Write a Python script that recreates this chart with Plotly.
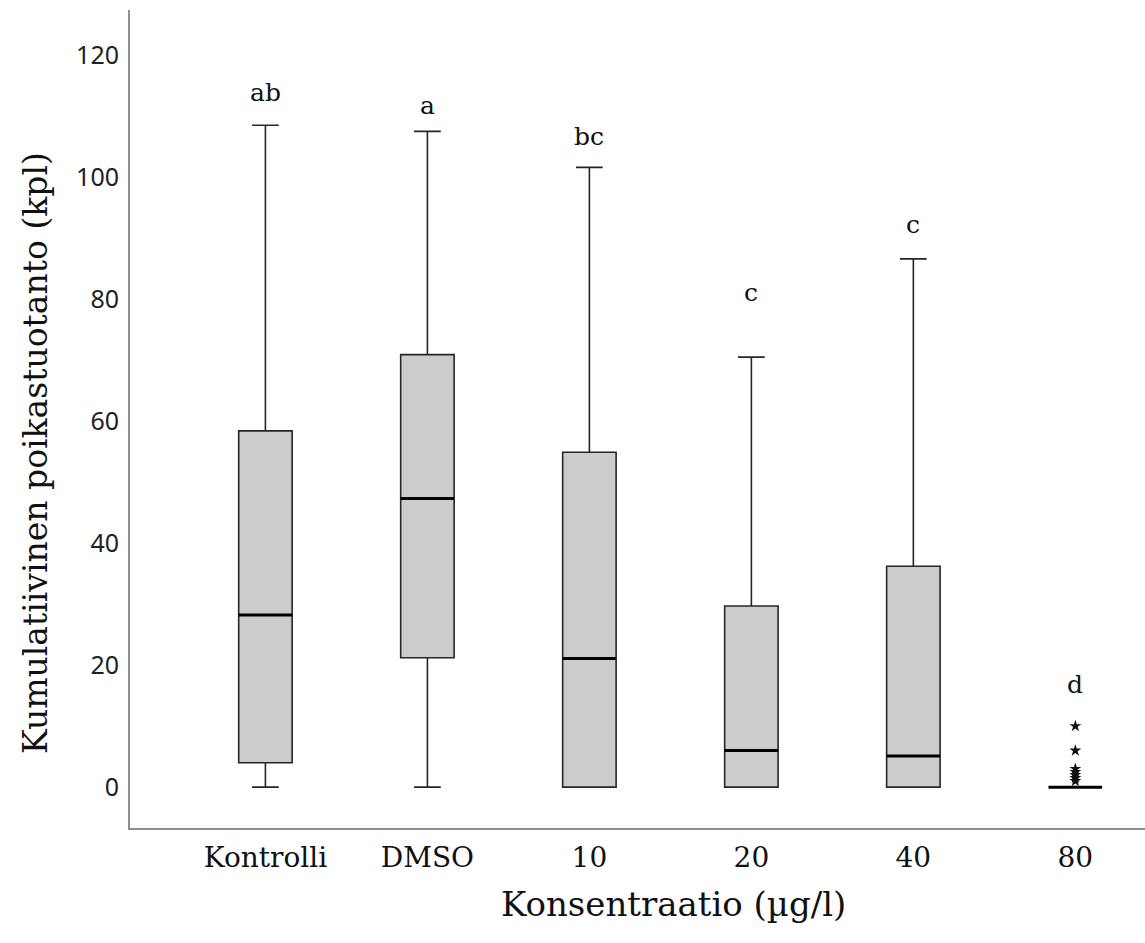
import plotly.graph_objects as go

categories = ["Kontrolli", "DMSO", "10", "20", "40", "80"]
q1 = [4.0, 21.2, 0.0, 0.0, 0.0, 0.0]
median = [28.2, 47.3, 21.1, 6.0, 5.1, 0.0]
q3 = [58.4, 70.9, 54.9, 29.7, 36.2, 0.0]
lower_fence = [0.0, 0.0, 0.0, 0.0, 0.0, 0.0]
upper_fence = [108.5, 107.5, 101.6, 70.5, 86.6, 0.0]
outlier_group = "80"
outliers = [10.0, 6.0, 3.0, 2.5, 2.0, 1.5, 1.0]
letters = ["ab", "a", "bc", "c", "c", "d"]
letter_y = [113.8, 111.8, 106.6, 81.1, 92.3, 16.9]
y_ticks = [0, 20, 40, 60, 80, 100, 120]

W, H = 1145, 943
ML, MR, MT, MB = 130, 0, 10, 115
x_range = [-0.836, 5.43]
y_range = [-6.7, 127.4]
box_w = 0.33
px_per_cat = (W - ML - MR) / (x_range[1] - x_range[0])

SERIF = "DejaVu Serif"
SANS = "Noto Sans"

fig = go.Figure()
fig.add_trace(go.Box(
    x=categories, q1=q1, median=median, q3=q3,
    lowerfence=lower_fence, upperfence=upper_fence,
    fillcolor="#cccccc", line=dict(color="#262626", width=1.6),
    width=box_w, whiskerwidth=0.5, boxpoints=False, showlegend=False,
    hoverinfo="skip",
))
fig.add_trace(go.Scatter(
    x=categories, y=median, mode="markers", showlegend=False, hoverinfo="skip",
    marker=dict(symbol="line-ew", size=box_w * px_per_cat / 1.4,
                line=dict(color="#000000", width=3)),
))
fig.add_trace(go.Scatter(
    x=[outlier_group] * len(outliers), y=outliers, mode="markers",
    showlegend=False, hoverinfo="skip",
    marker=dict(symbol="star", size=9, color="#111111", line=dict(width=0)),
))
for i, (t, yv) in enumerate(zip(letters, letter_y)):
    fig.add_annotation(x=i, y=yv, xref="x", yref="y", text=t, showarrow=False,
                       font=dict(family=SERIF, size=25, color="#111111"))

# axis titles placed as annotations (offset from the plot centre as in the original)
fig.add_annotation(xref="paper", yref="paper", x=(673 - ML) / (W - ML - MR),
                   y=1 - (904 - MT) / (H - MT - MB), text="Konsentraatio (µg/l)",
                   showarrow=False, xanchor="center", yanchor="middle",
                   font=dict(family=SERIF, size=34, color="#111111"))
fig.add_annotation(xref="paper", yref="paper", x=(35 - ML) / (W - ML - MR),
                   y=1 - (453 - MT) / (H - MT - MB),
                   text="Kumulatiivinen poikastuotanto (kpl)", textangle=-90,
                   showarrow=False, xanchor="center", yanchor="middle",
                   font=dict(family=SERIF, size=33, color="#111111"))

fig.update_layout(
    width=W, height=H, margin=dict(l=ML, r=MR, t=MT, b=MB),
    paper_bgcolor="white", plot_bgcolor="white",
    xaxis=dict(type="category", categoryorder="array", categoryarray=categories,
               range=x_range, showline=True, linecolor="#8f8f8f", linewidth=2,
               showgrid=False, zeroline=False, ticks="",
               tickfont=dict(family=SERIF, size=28, color="#111111"),
               ticklabelstandoff=3),
    yaxis=dict(range=y_range, tickvals=y_ticks, showline=True, linecolor="#8f8f8f",
               linewidth=2, showgrid=False, zeroline=False, ticks="",
               tickfont=dict(family=SANS, size=25, color="#222222"),
               ticklabelstandoff=4),
)
fig.write_html("out.html")
